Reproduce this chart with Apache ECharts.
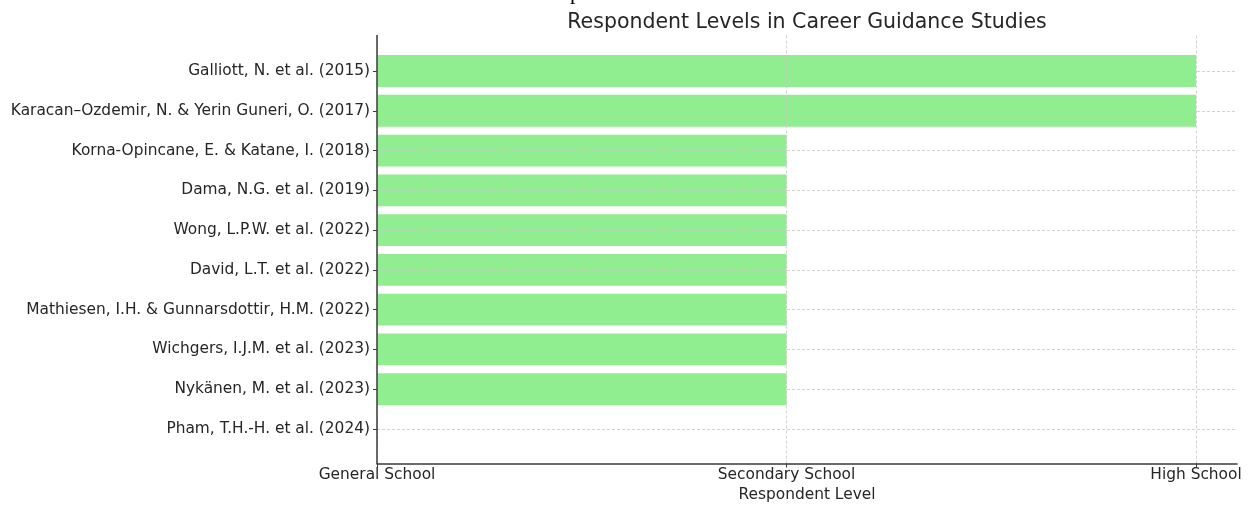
<!DOCTYPE html>
<html>
<head>
<meta charset="utf-8">
<script src="https://cdn.jsdelivr.net/npm/echarts@6/dist/echarts.min.js"></script>
<style>
html,body{margin:0;padding:0;background:#fff;}
#chart{width:1256px;height:505px;}
</style>
</head>
<body>
<div id="chart"></div>
<script>
const studies = [
  'Galliott, N. et al. (2015)',
  'Karacan–Ozdemir, N. & Yerin Guneri, O. (2017)',
  'Korna-Opincane, E. & Katane, I. (2018)',
  'Dama, N.G. et al. (2019)',
  'Wong, L.P.W. et al. (2022)',
  'David, L.T. et al. (2022)',
  'Mathiesen, I.H. & Gunnarsdottir, H.M. (2022)',
  'Wichgers, I.J.M. et al. (2023)',
  'Nykänen, M. et al. (2023)',
  'Pham, T.H.-H. et al. (2024)'
];
const levelValues = [2, 2, 1, 1, 1, 1, 1, 1, 1, 0];
const levelLabels = ['General School', 'Secondary School', 'High School'];
const levelTicks = [0, 1, 2];

const FONT = 'DejaVu Sans';
const TXT = '#262626';
const AX = '#3a3a3a';
const GRIDC = '#c8c8c8';
const L = 377, R = 19;

const chart = echarts.init(document.getElementById('chart'), null, {renderer: 'canvas'});
chart.setOption({
  animation: false,
  backgroundColor: '#fff',
  title: {
    text: 'Respondent Levels in Career Guidance Studies',
    left: 802, top: 7, textAlign: 'center',
    textStyle: {fontFamily: FONT, fontSize: 20.5, fontWeight: 'normal', color: TXT}
  },
  graphic: [{
    type: 'text', left: 570, top: -18,
    style: {text: 'p', fontFamily: 'Liberation Serif', fontSize: 22, fill: '#000'}
  }],
  grid: [
    {left: L, right: R, top: 35.5, bottom: 41.5, containLabel: false, outerBoundsMode: 'none'},
    {left: L, right: R, top: 51.1, bottom: 56.1, containLabel: false, outerBoundsMode: 'none'},
    {left: L, right: R, top: 71, bottom: 76, containLabel: false, outerBoundsMode: 'none'}
  ],
  xAxis: [
    {
      gridIndex: 0, type: 'value', min: 0, max: 2.1, interval: 1, z: 5,
      name: 'Respondent Level', nameLocation: 'middle', nameGap: 17,
      nameTextStyle: {fontFamily: FONT, fontSize: 15.4, color: TXT},
      axisLine: {show: true, onZero: false, lineStyle: {color: AX, width: 1.5}},
      axisTick: {show: true, length: 4, customValues: levelTicks, lineStyle: {color: AX, width: 1}},
      axisLabel: {
        customValues: levelTicks, margin: 4,
        fontFamily: FONT, fontSize: 15.4, color: TXT,
        formatter: v => levelLabels[Math.round(v)] || ''
      },
      splitLine: {show: true, lineStyle: {color: GRIDC, width: 0.8, type: [3, 2]}}
    },
    {gridIndex: 1, type: 'value', min: 0, max: 2.1, show: false},
    {gridIndex: 2, type: 'value', min: 0, max: 2.1, show: false}
  ],
  yAxis: [
    {
      gridIndex: 0, type: 'value', min: 0, max: 1, z: 5,
      axisLine: {show: true, onZero: false, lineStyle: {color: AX, width: 1.5}},
      axisTick: {show: false}, axisLabel: {show: false}, splitLine: {show: false}
    },
    {
      gridIndex: 1, type: 'category', data: studies, inverse: true, show: false
    },
    {
      gridIndex: 2, type: 'category', data: studies, inverse: true, boundaryGap: false, z: 5,
      axisLine: {show: false},
      axisTick: {show: true, length: 4, interval: 0, lineStyle: {color: AX, width: 1}},
      axisLabel: {interval: 0, margin: 7, fontFamily: FONT, fontSize: 15.4, color: TXT},
      splitLine: {show: true, interval: 0, lineStyle: {color: GRIDC, width: 0.8, type: [3, 2]}}
    }
  ],
  series: [{
    type: 'bar',
    xAxisIndex: 1, yAxisIndex: 1,
    data: levelValues,
    barCategoryGap: '20%',
    itemStyle: {color: '#90EE90'},
    z: 2
  }]
});
</script>
</body>
</html>
